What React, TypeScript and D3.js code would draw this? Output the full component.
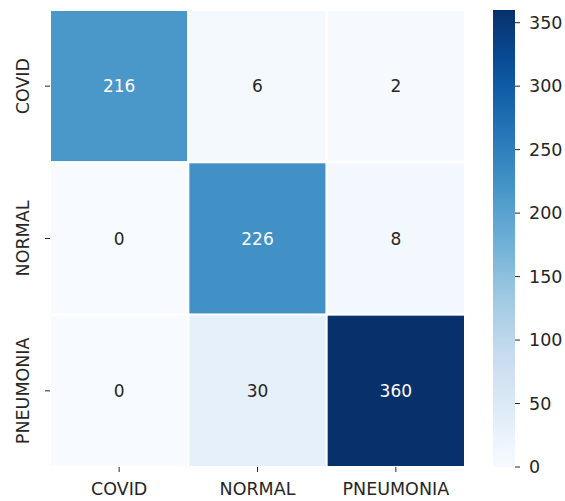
import React from "react";
import * as d3 from "d3";

const classes = ["COVID", "NORMAL", "PNEUMONIA"];
const matrix = [
  [216, 6, 2],
  [0, 226, 8],
  [0, 30, 360],
];
const cbarTicks = [0, 50, 100, 150, 200, 250, 300, 350];
const bluesStops = ["#f7fbff", "#deebf7", "#c6dbef", "#9ecae1", "#6baed6", "#4292c6", "#2171b5", "#08519c", "#08306b"];

const W = 565, H = 501;
const L = 50, R = 465, T = 10, B = 467;
const CB_L = 493, CB_R = 515;
const FONT = "DejaVu Sans";

export default function App() {
  const vmax = 360;
  const color = d3.scaleLinear<string>()
    .domain(bluesStops.map((_, i) => (i / (bluesStops.length - 1)) * vmax))
    .range(bluesStops)
    .interpolate(d3.interpolateRgb)
    .clamp(true);
  const x = d3.scaleBand().domain(classes).range([L, R]);
  const y = d3.scaleBand().domain(classes).range([T, B]);
  const cy = d3.scaleLinear().domain([0, vmax]).range([B, T]);
  const gradStops = d3.range(0, 1.0001, 0.05);

  const lin = (u: number) => {
    const s = u / 255;
    return s <= 0.03928 ? s / 12.92 : Math.pow((s + 0.055) / 1.055, 2.4);
  };
  const textColor = (v: number) => {
    const c = d3.rgb(color(v));
    const lum = 0.2126 * lin(c.r) + 0.7152 * lin(c.g) + 0.0722 * lin(c.b);
    return lum > 0.408 ? "#262626" : "#ffffff";
  };

  return (
    <svg width={W} height={H} style={{ position: "absolute", left: 0, top: 0, background: "#fff" }} fontFamily={FONT}>
      <defs>
        <linearGradient id="cb" x1="0" y1="1" x2="0" y2="0">
          {gradStops.map((t) => (
            <stop key={t} offset={t} stopColor={color(t * vmax)} />
          ))}
        </linearGradient>
      </defs>
      {matrix.map((row, i) =>
        row.map((v, j) => (
          <g key={`${i}-${j}`}>
            <rect x={x(classes[j])!} y={y(classes[i])!} width={x.bandwidth()} height={y.bandwidth()}
              fill={color(v)} stroke="#fff" strokeWidth={2} />
            <text x={x(classes[j])! + x.bandwidth() / 2} y={y(classes[i])! + y.bandwidth() / 2}
              textAnchor="middle" dominantBaseline="central" fontSize={17} fill={textColor(v)}>{v}</text>
          </g>
        ))
      )}
      {classes.map((c) => (
        <g key={"x" + c}>
          <line x1={x(c)! + x.bandwidth() / 2} x2={x(c)! + x.bandwidth() / 2} y1={B} y2={B + 5} stroke="#262626" strokeWidth={1} />
          <text x={x(c)! + x.bandwidth() / 2} y={B + 22} textAnchor="middle" dominantBaseline="central" fontSize={17.5} fill="#262626">{c}</text>
        </g>
      ))}
      {classes.map((c) => (
        <g key={"y" + c}>
          <line x1={L - 5} x2={L} y1={y(c)! + y.bandwidth() / 2} y2={y(c)! + y.bandwidth() / 2} stroke="#262626" strokeWidth={1} />
          <text transform={`translate(${L - 27},${y(c)! + y.bandwidth() / 2}) rotate(-90)`} textAnchor="middle" dominantBaseline="central" fontSize={17.5} fill="#262626">{c}</text>
        </g>
      ))}
      <rect x={CB_L} y={T} width={CB_R - CB_L} height={B - T} fill="url(#cb)" />
      {cbarTicks.map((t) => (
        <g key={"c" + t}>
          <line x1={CB_R} x2={CB_R + 5} y1={cy(t)} y2={cy(t)} stroke="#262626" strokeWidth={1} />
          <text x={CB_R + 14} y={cy(t)} dominantBaseline="central" fontSize={17.5} fill="#262626">{t}</text>
        </g>
      ))}
    </svg>
  );
}
